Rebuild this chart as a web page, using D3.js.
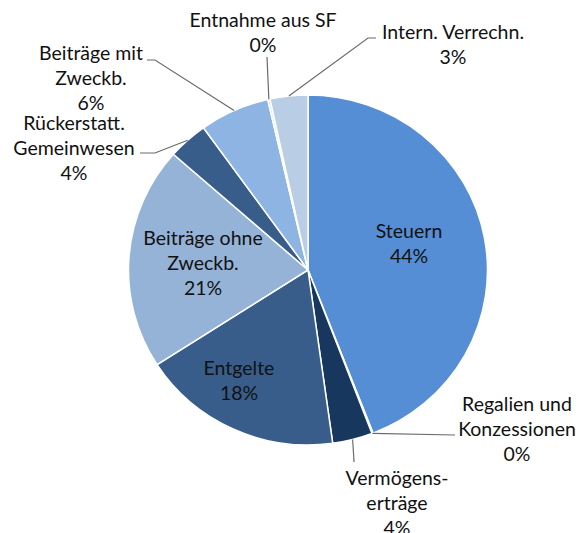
<!DOCTYPE html>
<html>
<head>
<meta charset="utf-8">
<script src="https://cdnjs.cloudflare.com/ajax/libs/d3/7.8.5/d3.min.js"></script>
<style>
  body { margin: 0; background: #fff; }
  text { font-family: Lato, "Open Sans", sans-serif; font-size: 19.5px; fill: #111; }
</style>
</head>
<body>
<div id="chart"></div>
<script>
// slice order is clockwise from 12 o'clock
var categories = ["Steuern", "Regalien und Konzessionen", "Vermögenserträge", "Entgelte",
    "Beiträge ohne Zweckb.", "Rückerstatt. Gemeinwesen", "Beiträge mit Zweckb.",
    "Entnahme aus SF", "Intern. Verrechn."];
var values = [44.1, 0.1, 3.6, 18.1, 20.6, 3.6, 6.3, 0.2, 3.4];
// how each label is broken over lines
var labelLines = [["Steuern"], ["Regalien und", "Konzessionen"], ["Vermögens-", "erträge"], ["Entgelte"],
    ["Beiträge ohne", "Zweckb."], ["Rückerstatt.", "Gemeinwesen"], ["Beiträge mit", "Zweckb."],
    ["Entnahme aus SF"], ["Intern. Verrechn."]];
var colors = ["#558ed5", "#558ed5", "#17375e", "#385d8a", "#95b3d7", "#385d8a", "#8eb4e3", "#c6d9f1", "#b9cde5"];

(function() {
    var width = 584;
    var height = 533;
    var cx = 308, cy = 270;
    var rx = 179.5, ry = 175;
    var lineH = 25;

    // label layout: text centre x, first line y, and optional leader points
    var layout = [
        {x: 409, y: 231},
        {x: 517, y: 404, lead: [[455, 435]]},
        {x: 397, y: 478, lead: [[354, 462]]},
        {x: 239, y: 368},
        {x: 203, y: 238},
        {x: 74, y: 123, lead: [[155, 153], [140, 153]]},
        {x: 91, y: 53, lead: [[155, 60], [147, 60]]},
        {x: 263, y: 20, lead: [[267, 57]]},
        {x: 453, y: 32, lead: [[368, 38], [376, 38]]}
    ];

    var svg = d3.select("#chart").append("svg")
        .attr("width", width)
        .attr("height", height);

    var total = d3.sum(values);
    var pie = d3.pie().sort(null).value(function(d) { return d; });
    var arcs = pie(values);

    var arc = d3.arc().innerRadius(0).outerRadius(ry);

    var g = svg.append("g")
        .attr("transform", "translate(" + cx + "," + cy + ") scale(" + (rx / ry) + ",1)");

    g.selectAll("path")
        .data(arcs)
        .enter().append("path")
        .attr("d", arc)
        .attr("fill", function(d, i) { return colors[i]; })
        .attr("stroke", "#fff")
        .attr("stroke-width", 1.5)
        .attr("vector-effect", "non-scaling-stroke");

    function edgePoint(a) {
        return [cx + rx * Math.sin(a), cy - ry * Math.cos(a)];
    }

    // leader lines
    arcs.forEach(function(d, i) {
        var l = layout[i];
        if (!l.lead) return;
        var mid = (d.startAngle + d.endAngle) / 2;
        var pts = [edgePoint(mid)].concat(l.lead);
        svg.append("path")
            .attr("d", d3.line()(pts))
            .attr("fill", "none")
            .attr("stroke", "#6b6b6b")
            .attr("stroke-width", 1.2);
    });

    // labels
    arcs.forEach(function(d, i) {
        var l = layout[i];
        var lines = labelLines[i].concat([Math.round(d.value / total * 100) + "%"]);
        var t = svg.append("text")
            .attr("text-anchor", "middle");
        lines.forEach(function(s, k) {
            t.append("tspan")
                .attr("x", l.x)
                .attr("y", l.y + k * lineH)
                .attr("dy", "0.35em")
                .text(s);
        });
    });
})();
</script>
</body>
</html>
